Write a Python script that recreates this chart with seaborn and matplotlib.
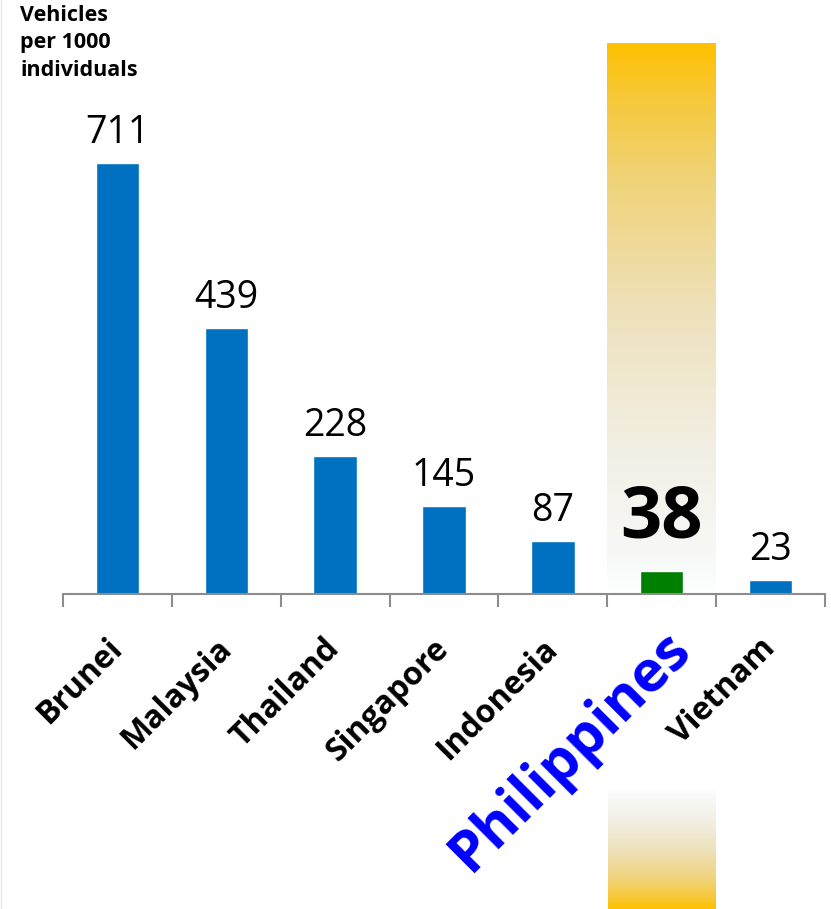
import numpy as np
import pandas as pd
import matplotlib
matplotlib.use("Agg")
import matplotlib.pyplot as plt
import matplotlib.transforms as mtransforms
from matplotlib.colors import LinearSegmentedColormap
from matplotlib.lines import Line2D
import seaborn as sns

countries = ["Brunei", "Malaysia", "Thailand", "Singapore", "Indonesia", "Philippines", "Vietnam"]
values = [711, 439, 228, 145, 87, 38, 23]
highlight = "Philippines"
y_title = "Vehicles\nper 1000\nindividuals"

sns.set_style("white")
plt.rcParams["font.family"] = ["Open Sans", "DejaVu Sans"]
plt.rcParams["text.color"] = "black"
plt.rcParams["xtick.color"] = "black"

W, H = 831, 909
fig = plt.figure(figsize=(W / 100, H / 100), dpi=100)
ax = fig.add_axes([63 / W, (H - 594) / H, (825 - 63) / W, (594 - 43) / H])

df = pd.DataFrame({"country": countries, "value": values})
palette = {c: ("#008000" if c == highlight else "#0070C0") for c in countries}

hi = countries.index(highlight)
ymax = 909

# highlight gradient behind the highlighted category
grad_cmap = LinearSegmentedColormap.from_list(
    "gold", [(0.0, "#FFFFFF"), (0.05, "#F8F9F9"), (0.25, "#F2F0E6"),
             (0.5, "#EEE2BE"), (0.75, "#F0D37A"), (0.9, "#F6C93A"), (1.0, "#FFC000")])
grad = np.linspace(0, 1, 256).reshape(-1, 1)
ax.imshow(grad, cmap=grad_cmap, aspect="auto", origin="lower",
          extent=(hi - 0.5, hi + 0.5, 0, ymax), zorder=0)

sns.barplot(data=df, x="country", y="value", hue="country", palette=palette,
            width=0.4, legend=False, saturation=1, ax=ax, zorder=2)

ax.set_xlim(-0.5, len(countries) - 0.5)
ax.set_ylim(0, ymax)
ax.set_xlabel("")
ax.set_ylabel("")
ax.set_yticks([])
for s in ["left", "top", "right"]:
    ax.spines[s].set_visible(False)
ax.spines["bottom"].set_color("#8C8C8C")
ax.spines["bottom"].set_linewidth(1.5)
ax.patch.set_alpha(0)

ax.set_xticks(np.arange(-0.5, len(countries), 1.0), minor=True)
ax.tick_params(axis="x", which="minor", bottom=True, length=9.5, width=1.5, color="#8C8C8C")
ax.tick_params(axis="x", which="major", bottom=True, length=0, pad=36)
ax.set_xticks(range(len(countries)))
ax.set_xticklabels(countries, rotation=45, ha="right", va="center",
                   rotation_mode="anchor", fontsize=23, fontweight="bold")
for lab in ax.get_xticklabels():
    if lab.get_text() == highlight:
        lab.set_color("#0000FF")
        lab.set_fontsize(41)
        lab.set_transform(lab.get_transform() +
                          mtransforms.ScaledTranslation(20 / 100, 4 / 100, fig.dpi_scale_trans))

for i, v in enumerate(values):
    if countries[i] == highlight:
        ax.annotate(str(v), (i, v), xytext=(0, 12), textcoords="offset points",
                    ha="center", va="bottom", fontsize=52, fontweight="bold", zorder=3)
    else:
        ax.annotate(str(v), (i, v), xytext=(0, 8), textcoords="offset points",
                    ha="center", va="bottom", fontsize=27, zorder=3)

# y title
fig.text(20 / W, 1 - 5 / H, y_title, ha="left", va="top", fontsize=15.5,
         fontweight="bold", linespacing=1.4)

# bottom gradient strip below the labels
bx = fig.add_axes([608 / W, 0, (716 - 608) / W, (H - 790) / H], zorder=-1)
bx.imshow(grad, cmap=grad_cmap, aspect="auto", origin="upper", extent=(0, 1, 0, 1))
bx.set_axis_off()

# faint left border
fig.add_artist(Line2D([1 / W, 1 / W], [0, 1], transform=fig.transFigure,
                      color="#E6E6E6", linewidth=1))

fig.savefig("out.png", dpi=100)
